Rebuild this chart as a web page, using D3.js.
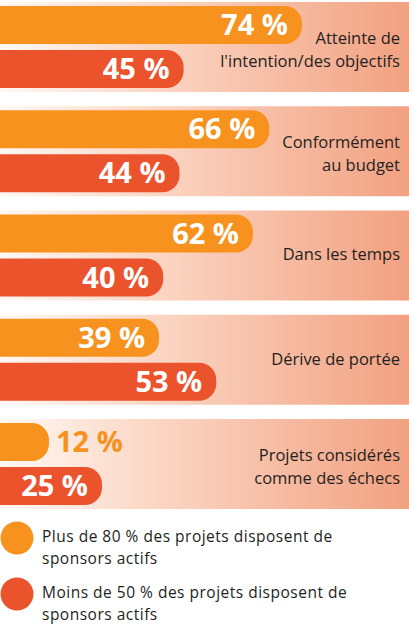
<!DOCTYPE html>
<html>
<head>
<meta charset="utf-8">
<title>Sponsors actifs</title>
<style>
  body { margin: 0; background: #fff; }
  svg text { font-family: "Open Sans", "Noto Sans", sans-serif; }
</style>
</head>
<body>
<div id="chart"></div>
<script src="https://d3js.org/d3.v7.min.js"></script>
<script>
// data
var categories = [
  ["Atteinte de", "l'intention/des objectifs"],
  ["Conformément", "au budget"],
  ["Dans les temps"],
  ["Dérive de portée"],
  ["Projets considérés", "comme des échecs"]
];
var plus80 = [74, 66, 62, 39, 12];
var moins50 = [45, 44, 40, 53, 25];
var seriesNames = [
  ["Plus de 80 % des projets disposent de", "sponsors actifs"],
  ["Moins de 50 % des projets disposent de", "sponsors actifs"]
];
var colors = ["#f7921e", "#eb532d"];

var width = 409, height = 625;

var svg = d3.select('#chart').append('svg')
    .attr('width', width)
    .attr('height', height);

var defs = svg.append('defs');
var grad = defs.append('linearGradient')
    .attr('id', 'bandGrad')
    .attr('x1', '0%').attr('x2', '100%').attr('y1', '0%').attr('y2', '0%');
grad.append('stop').attr('offset', '0%').attr('stop-color', '#fff8f4');
grad.append('stop').attr('offset', '38%').attr('stop-color', '#fbd6c4');
grad.append('stop').attr('offset', '100%').attr('stop-color', '#f2a181');

var x = d3.scaleLinear().domain([0, 100]).range([0, 408]);
var idx = d3.range(categories.length);
var y = d3.scaleBand().domain(idx).range([2, 509]).paddingInner(0.137);
var ySub = d3.scaleBand().domain([0, 1]).range([4, 86]).paddingInner(0.136);

function barPath(w, h) {
  var r = Math.min(17, h / 2, w);
  return 'M0,0H' + (w - r) +
    'A' + r + ',' + r + ' 0 0 1 ' + w + ',' + r +
    'V' + (h - r) +
    'A' + r + ',' + r + ' 0 0 1 ' + (w - r) + ',' + h +
    'H0Z';
}

var groups = svg.selectAll('g.grp')
    .data(idx)
  .enter().append('g')
    .attr('class', 'grp')
    .attr('transform', function(i) { return 'translate(0,' + y(i) + ')'; });

groups.append('rect')
    .attr('x', 0).attr('y', 0)
    .attr('width', width)
    .attr('height', y.bandwidth())
    .attr('fill', 'url(#bandGrad)');

var bars = groups.selectAll('g.bar')
    .data(function(i) { return [plus80[i], moins50[i]].map(function(v, s) { return {v: v, s: s}; }); })
  .enter().append('g')
    .attr('class', 'bar')
    .attr('transform', function(d) { return 'translate(0,' + ySub(d.s) + ')'; });

bars.append('path')
    .attr('d', function(d) { return barPath(x(d.v), ySub.bandwidth()); })
    .attr('fill', function(d) { return colors[d.s]; });

bars.append('text')
    .attr('x', function(d) { return x(d.v) < 70 ? x(d.v) + 7 : x(d.v) - 14; })
    .attr('y', ySub.bandwidth() / 2 + 10)
    .attr('text-anchor', function(d) { return x(d.v) < 70 ? 'start' : 'end'; })
    .attr('font-size', 29)
    .attr('font-weight', 700)
    .attr('fill', function(d) { return x(d.v) < 70 ? colors[d.s] : '#fff'; })
    .text(function(d) { return d.v + ' %'; });

// category labels, one text per line
groups.each(function(i) {
  var lines = categories[i];
  var mid = y.bandwidth() / 2;
  var g = d3.select(this);
  lines.forEach(function(l, k) {
    g.append('text')
      .attr('x', 400)
      .attr('y', lines.length === 1 ? mid + 5 : mid - 3 + k * 23)
      .attr('text-anchor', 'end')
      .attr('font-size', 16.5)
      .attr('fill', '#231f20')
      .text(l);
  });
});

// legend
var legend = svg.selectAll('g.leg')
    .data(seriesNames)
  .enter().append('g')
    .attr('class', 'leg')
    .attr('transform', function(d, i) { return 'translate(0,' + (538 + i * 56) + ')'; });

legend.append('circle')
    .attr('cx', 17).attr('cy', 0).attr('r', 16.5)
    .attr('fill', function(d, i) { return colors[i]; });

legend.each(function(d) {
  var g = d3.select(this);
  d.forEach(function(l, k) {
    g.append('text')
      .attr('x', 42)
      .attr('y', 4 + k * 21.5)
      .attr('font-size', 15.5)
      .attr('letter-spacing', 0.5)
      .attr('fill', '#231f20')
      .text(l);
  });
});
</script>
</body>
</html>
